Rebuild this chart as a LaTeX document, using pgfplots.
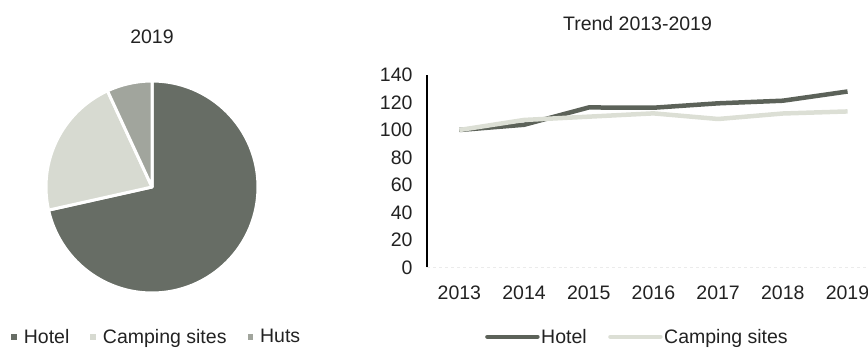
\documentclass[border=0pt]{standalone}
\usepackage{pgfplots}
\pgfplotsset{compat=1.18}
\usepackage{fontspec}
\setmainfont{Liberation Sans}

\definecolor{hotel}{HTML}{676D65}
\definecolor{camping}{HTML}{D7DAD1}
\definecolor{huts}{HTML}{A1A59D}
\definecolor{hotelline}{HTML}{5C6259}
\definecolor{campline}{HTML}{DCDFD5}
\definecolor{txt}{HTML}{222222}

\newcommand\chartfont{\fontsize{19.5bp}{23bp}\selectfont}

% 2019 shares (percent)
\def\shareHotel{71.5}
\def\shareCamping{21.6}
\def\shareHuts{6.9}

\begin{document}
\begin{tikzpicture}[x=1bp,y=1bp,font=\chartfont,text=txt]

\pgfmathsetmacro\aA{90}
\pgfmathsetmacro\aB{\aA-3.6*\shareHotel}
\pgfmathsetmacro\aC{\aB-3.6*\shareCamping}
\pgfmathsetmacro\aD{\aC-3.6*\shareHuts}

% ---- pie: 2019 ----
\begin{axis}[
  at={(152bp,161bp)}, anchor=center,
  scale only axis, width=210bp, height=210bp,
  hide axis, xmin=-1, xmax=1, ymin=-1, ymax=1,
  clip=false,
  legend columns=-1,
  legend style={at={(-0.171,-0.214)}, anchor=west, draw=none, fill=none,
    inner sep=0pt, font=\chartfont,
    /tikz/every odd column/.append style={column sep=5bp},
    /tikz/every even column/.append style={column sep=19bp}},
  legend image code/.code={\fill[#1, draw=none] (0bp,-2.8bp) rectangle (5.6bp,2.8bp);},
]
\addlegendimage{fill=hotel}\addlegendentry{Hotel}
\addlegendimage{fill=camping}\addlegendentry{Camping sites}
\addlegendimage{fill=huts}\addlegendentry{Huts}
\fill[hotel, draw=white, line width=3bp, line join=round]
  (axis cs:0,0) -- ++(\aA:106bp) arc[start angle=\aA, end angle=\aB, radius=106bp] -- cycle;
\fill[camping, draw=white, line width=3bp, line join=round]
  (axis cs:0,0) -- ++(\aB:106bp) arc[start angle=\aB, end angle=\aC, radius=106bp] -- cycle;
\fill[huts, draw=white, line width=3bp, line join=round]
  (axis cs:0,0) -- ++(\aC:106bp) arc[start angle=\aC, end angle=\aD, radius=106bp] -- cycle;
\end{axis}
\node at (152bp,311bp) {2019};

% ---- trend 2013-2019 ----
\begin{axis}[
  at={(427bp,80.5bp)}, anchor=south west,
  scale only axis, width=452.9bp, height=192.5bp,
  xmin=2012.5, xmax=2019.5, ymin=0, ymax=140,
  xtick={2013,2014,...,2019}, ytick={0,20,...,140},
  axis y line*=left, axis x line*=bottom,
  y axis line style={black, line width=1.3bp},
  x axis line style={draw=black!8, line width=1bp, dashed},
  major tick length=0pt,
  tick label style={font=\chartfont, text=txt},
  /pgf/number format/assume math mode=true,
  xticklabel style={/pgf/number format/set thousands separator={}, yshift=-15bp},
  yticklabel style={xshift=-11bp},
  legend columns=-1,
  legend style={at={(0.128,-0.36)}, anchor=west, draw=none, fill=none,
    inner sep=0pt, font=\chartfont,
    nodes={inner sep=1.5bp},
    /tikz/every even column/.append style={column sep=20bp}},
  legend image code/.code={\draw[#1, line cap=round] (0bp,0bp) -- (50bp,0bp);},
]
\addplot[hotelline, line width=4.5bp, line join=round] coordinates {
  (2013,100) (2014,103.8) (2015,116.4) (2016,116.2) (2017,119.4) (2018,121.3) (2019,128)
};
\addlegendentry{Hotel}
\addplot[campline, line width=4.5bp, line join=round] coordinates {
  (2013,100) (2014,107.3) (2015,109.7) (2016,112.1) (2017,108) (2018,112) (2019,113.5)
};
\addlegendentry{Camping sites}
\end{axis}
\node at (637.5bp,324bp) {Trend 2013-2019};

\pgfresetboundingbox
\useasboundingbox (0,0) rectangle (868bp,348bp);
\end{tikzpicture}
\end{document}
